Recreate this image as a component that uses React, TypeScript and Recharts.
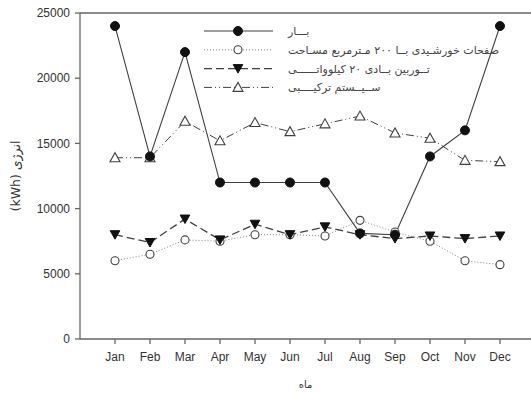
import React from "react";
import { Line, LineChart, ReferenceLine, XAxis, YAxis, Label } from "recharts";

const months = ["Jan", "Feb", "Mar", "Apr", "May", "Jun", "Jul", "Aug", "Sep", "Oct", "Nov", "Dec"];
const load = [24000, 14000, 22000, 12000, 12000, 12000, 12000, 8100, 8000, 14000, 16000, 24000];
const solar = [6000, 6500, 7600, 7500, 8000, 8000, 7900, 9100, 8200, 7500, 6000, 5700];
const wind = [8000, 7400, 9200, 7600, 8800, 8000, 8600, 8000, 7700, 7900, 7700, 7900];
const hybrid = [13900, 13900, 16700, 15200, 16600, 15900, 16500, 17100, 15800, 15400, 13700, 13600];
const yTicks = [0, 5000, 10000, 15000, 20000, 25000];

const legendNames = [
  "بـــار",
  "صفحات خورشـیدی بــا ۲۰۰ مـترمربع مسـاحت",
  "تــوربین بــادی ۲۰ کیلوواتــــــی",
  "ســیــستم ترکیــــبی",
];

const data = months.map((m, i) => ({
  idx: i,
  month: m,
  load: load[i],
  solar: solar[i],
  wind: wind[i],
  hybrid: hybrid[i],
}));

const INK = "#404040";
const AXIS = "#666";
const TXT = "#333";
const persianFont = "'DejaVu Sans', sans-serif";

type MarkerKind = "filledCircle" | "openCircle" | "downTri" | "upTri";

function Marker({ kind, cx, cy }: { kind: MarkerKind; cx: number; cy: number }) {
  if (kind === "filledCircle") return <circle cx={cx} cy={cy} r={4.5} fill="#111" stroke="#111" />;
  if (kind === "openCircle")
    return <circle cx={cx} cy={cy} r={4} fill="#fff" stroke={INK} strokeWidth={1.1} />;
  if (kind === "downTri")
    return (
      <path
        d={`M${cx - 4.8},${cy - 4} L${cx + 4.8},${cy - 4} L${cx},${cy + 4.5} Z`}
        fill="#111"
        stroke="#111"
      />
    );
  return (
    <path
      d={`M${cx - 5},${cy + 4} L${cx + 5},${cy + 4} L${cx},${cy - 5} Z`}
      fill="#fff"
      stroke={INK}
      strokeWidth={1.1}
    />
  );
}

const makeDot = (kind: MarkerKind) => (props: any) => {
  const { cx, cy, index } = props;
  return (
    <g key={`${kind}-${index}`}>
      <Marker kind={kind} cx={cx} cy={cy} />
    </g>
  );
};

const legendRows: { kind: MarkerKind; dash?: string; width: number }[] = [
  { kind: "filledCircle", width: 1.1 },
  { kind: "openCircle", dash: "1 2", width: 1 },
  { kind: "downTri", dash: "8 4", width: 1.3 },
  { kind: "upTri", dash: "8 3 1 3 1 3", width: 1 },
];

// legend sits over the plot, outside recharts' layout so it doesn't shrink the plot
function LegendBox() {
  return (
    <svg
      width={320}
      height={90}
      style={{ position: "absolute", left: 200, top: 20, overflow: "visible" }}
    >
      {legendRows.map((row, i) => {
        const y = 11 + i * 18.8;
        return (
          <g key={i}>
            <line
              x1={4}
              x2={73}
              y1={y}
              y2={y}
              stroke={i === 1 ? "#888" : INK}
              strokeWidth={row.width}
              strokeDasharray={row.dash}
            />
            <Marker kind={row.kind} cx={38} cy={y} />
            <text
              x={88}
              y={y + 4}
              fontSize={11}
              fontFamily={persianFont}
              fill="#444"
              textAnchor="start"
            >
              {legendNames[i]}
            </text>
          </g>
        );
      })}
    </svg>
  );
}

function YTitle(props: any) {
  const vb = props.viewBox;
  const cx = vb.x + 15;
  const cy = vb.y + vb.height / 2;
  return (
    <text
      transform={`translate(${cx},${cy}) rotate(-90)`}
      textAnchor="middle"
      dominantBaseline="central"
      fontFamily={persianFont}
      fontSize={12.5}
      fill={TXT}
    >
      (kWh) انرژی
    </text>
  );
}

export default function App() {
  return (
    <div style={{ position: "absolute", left: 0, top: 0, width: 531, height: 396, background: "#fff" }}>
      <LineChart
        width={531}
        height={396}
        data={data}
        margin={{ top: 13, right: 0, bottom: 27, left: 0 }}
        style={{ fontFamily: "'Liberation Sans', Arial, sans-serif" }}
      >
        <XAxis
          type="number"
          dataKey="idx"
          domain={[-1, 11.886]}
          allowDataOverflow
          ticks={months.map((_, i) => i)}
          tickFormatter={(v: number) => months[v]}
          stroke={AXIS}
          strokeWidth={1.3}
          tickSize={5}
          tickMargin={8}
          height={30}
          tick={{ fill: TXT, fontSize: 12 }}
        >
          <Label
            value="ماه"
            position="bottom"
            offset={12}
            style={{ fontFamily: persianFont, fontSize: 10, fill: TXT }}
          />
        </XAxis>
        <YAxis
          domain={[0, 25000]}
          ticks={yTicks}
          width={80}
          stroke={AXIS}
          strokeWidth={1.3}
          tickSize={5}
          tickMargin={5}
          tick={{ fill: TXT, fontSize: 12 }}
        >
          <Label content={<YTitle />} />
        </YAxis>
        <ReferenceLine y={25000} stroke={AXIS} strokeWidth={1.3} />
        <Line
          dataKey="hybrid"
          stroke={INK}
          strokeWidth={1}
          strokeDasharray="8 3 1 3 1 3"
          dot={makeDot("upTri")}
          isAnimationActive={false}
        />
        <Line
          dataKey="solar"
          stroke="#888"
          strokeWidth={1}
          strokeDasharray="1 2"
          dot={makeDot("openCircle")}
          isAnimationActive={false}
        />
        <Line
          dataKey="wind"
          stroke={INK}
          strokeWidth={1.3}
          strokeDasharray="8 4"
          dot={makeDot("downTri")}
          isAnimationActive={false}
        />
        <Line
          dataKey="load"
          stroke={INK}
          strokeWidth={1.1}
          dot={makeDot("filledCircle")}
          isAnimationActive={false}
        />
      </LineChart>
      <LegendBox />
    </div>
  );
}
